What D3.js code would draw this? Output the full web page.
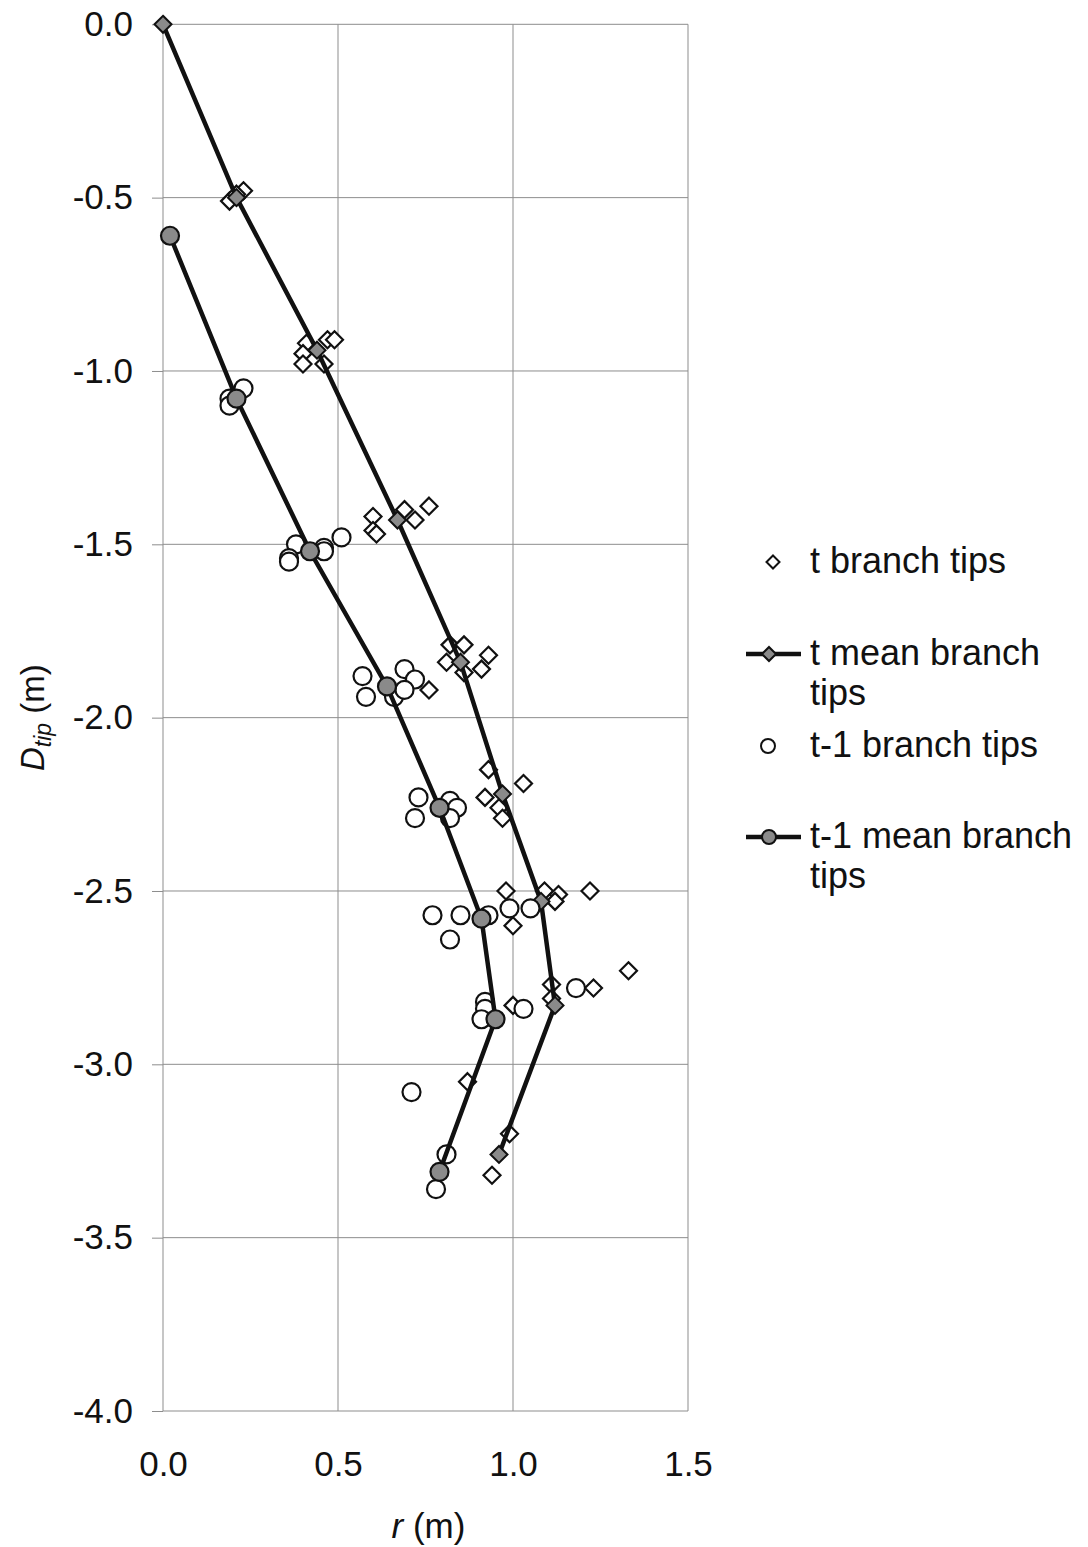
<!DOCTYPE html>
<html>
<head>
<meta charset="utf-8">
<script src="https://cdn.jsdelivr.net/npm/d3@7"></script>
<style>
body{margin:0;background:#fff}
text{font-family:"Liberation Sans",Arial,Helvetica,sans-serif;fill:#111}
</style>
</head>
<body>
<svg id="chart" width="1088" height="1547"></svg>
<script>
// ticks
const xTicks=[0,0.5,1.0,1.5]
const yTicks=[0,-0.5,-1.0,-1.5,-2.0,-2.5,-3.0,-3.5,-4.0]

// t branch tips (r, D)
const tTipR=[0.19,0.23,0.21, 0.41,0.47,0.49,0.40,0.40,0.46, 0.60,0.69,0.76,0.60,0.61,0.72,
  0.82,0.86,0.81,0.86,0.93,0.91,0.76, 0.93,1.03,0.92,0.96,0.97, 0.98,1.09,1.13,1.12,1.22,1.00,
  1.11,1.23,1.33,1.11,1.00, 0.87, 0.99,0.94]
const tTipD=[-0.51,-0.48,-0.49, -0.92,-0.91,-0.91,-0.95,-0.98,-0.98, -1.42,-1.40,-1.39,-1.46,-1.47,-1.43,
  -1.79,-1.79,-1.84,-1.87,-1.82,-1.86,-1.92, -2.15,-2.19,-2.23,-2.26,-2.29, -2.50,-2.50,-2.51,-2.53,-2.50,-2.60,
  -2.77,-2.78,-2.73,-2.81,-2.83, -3.05, -3.20,-3.32]

// t mean branch tips
const tMeanR=[0.00,0.21,0.44,0.67,0.85,0.97,1.08,1.12,0.96]
const tMeanD=[0.00,-0.50,-0.94,-1.43,-1.84,-2.22,-2.53,-2.83,-3.26]

// t-1 branch tips
const t1TipR=[0.19,0.23,0.19, 0.38,0.36,0.36,0.46,0.46,0.51, 0.57,0.58,0.69,0.72,0.66,0.69,
  0.73,0.72,0.82,0.84,0.82, 0.77,0.85,0.93,0.82,0.99,1.05, 1.18,1.03,0.92,0.92,0.91, 0.71, 0.81,0.78]
const t1TipD=[-1.08,-1.05,-1.10, -1.50,-1.54,-1.55,-1.51,-1.52,-1.48, -1.88,-1.94,-1.86,-1.89,-1.94,-1.92,
  -2.23,-2.29,-2.24,-2.26,-2.29, -2.57,-2.57,-2.57,-2.64,-2.55,-2.55, -2.78,-2.84,-2.82,-2.84,-2.87, -3.08, -3.26,-3.36]

// t-1 mean branch tips
const t1MeanR=[0.02,0.21,0.42,0.64,0.79,0.91,0.95,0.79]
const t1MeanD=[-0.61,-1.08,-1.52,-1.91,-2.26,-2.58,-2.87,-3.31]

const legendLabels=[["t branch tips"],["t mean branch","tips"],["t-1 branch tips"],["t-1 mean branch","tips"]]

const svg=d3.select("#chart")
const pLeft=163,pRight=688,pTop=24.3,pBottom=1411
const x=d3.scaleLinear().domain([0,1.5]).range([pLeft,pRight])
const y=d3.scaleLinear().domain([0,-4]).range([pTop,pBottom])
const fmt=d=>d.toFixed(1)
const grey="#8d8d8d"

//grid
svg.append("g").selectAll("line").data(yTicks).enter().append("line")
  .attr("x1",pLeft).attr("x2",pRight).attr("y1",d=>y(d)).attr("y2",d=>y(d))
  .attr("stroke",grey).attr("stroke-width",1)
svg.append("g").selectAll("line").data(xTicks).enter().append("line")
  .attr("x1",d=>x(d)).attr("x2",d=>x(d)).attr("y1",pTop).attr("y2",pBottom)
  .attr("stroke",grey).attr("stroke-width",1)

//axes
const yAxis=d3.axisLeft(y).tickValues(yTicks).tickFormat(fmt).tickSize(11).tickPadding(19)
const gy=svg.append("g").attr("transform",`translate(${pLeft},0)`).call(yAxis)
gy.select(".domain").remove()
gy.selectAll(".tick line").attr("stroke",grey)
gy.selectAll("text").attr("font-size",35).attr("font-family",null)

const xAxis=d3.axisBottom(x).tickValues(xTicks).tickFormat(fmt).tickSize(0).tickPadding(40)
const gx=svg.append("g").attr("transform",`translate(0,${pBottom})`).call(xAxis)
gx.select(".domain").remove()
gx.selectAll("text").attr("font-size",35).attr("font-family",null)

//axis titles
const xt=svg.append("text").attr("x",(pLeft+pRight)/2+3).attr("y",1538).attr("text-anchor","middle").attr("font-size",35)
xt.append("tspan").attr("font-style","italic").text("r")
xt.append("tspan").text(" (m)")
const yt=svg.append("text").attr("transform",`translate(44,${(pTop+pBottom)/2}) rotate(-90)`).attr("text-anchor","middle").attr("font-size",33)
yt.append("tspan").attr("font-style","italic").text("D")
yt.append("tspan").attr("font-style","italic").attr("font-size",23).attr("dy",7).text("tip")
yt.append("tspan").attr("dy",-7).text(" (m)")

const diamond=h=>`M0,${-h}L${h},0L0,${h}L${-h},0Z`
const line=d3.line().x(d=>x(d[0])).y(d=>y(d[1]))
const pairs=(a,b)=>a.map((v,i)=>[v,b[i]])

//t branch tips
svg.append("g").selectAll("path").data(pairs(tTipR,tTipD)).enter().append("path")
  .attr("d",diamond(8.5)).attr("transform",d=>`translate(${x(d[0])},${y(d[1])})`)
  .attr("fill","#fff").attr("stroke","#111").attr("stroke-width",2.2)

//t mean
const tMean=pairs(tMeanR,tMeanD)
svg.append("path").datum(tMean).attr("d",line).attr("fill","none").attr("stroke","#111").attr("stroke-width",4.5)
svg.append("g").selectAll("path").data(tMean).enter().append("path")
  .attr("d",diamond(8.5)).attr("transform",d=>`translate(${x(d[0])},${y(d[1])})`)
  .attr("fill","#8a8a8a").attr("stroke","#111").attr("stroke-width",2)

//t-1 branch tips
svg.append("g").selectAll("circle").data(pairs(t1TipR,t1TipD)).enter().append("circle")
  .attr("cx",d=>x(d[0])).attr("cy",d=>y(d[1])).attr("r",9)
  .attr("fill","#fff").attr("stroke","#111").attr("stroke-width",2.2)

//t-1 mean
const t1Mean=pairs(t1MeanR,t1MeanD)
svg.append("path").datum(t1Mean).attr("d",line).attr("fill","none").attr("stroke","#111").attr("stroke-width",4.5)
svg.append("g").selectAll("circle").data(t1Mean).enter().append("circle")
  .attr("cx",d=>x(d[0])).attr("cy",d=>y(d[1])).attr("r",9)
  .attr("fill","#8a8a8a").attr("stroke","#111").attr("stroke-width",2.2)

//legend
const legY=[573,665,757,848]
const legend=svg.append("g").attr("id","legend")
legendLabels.forEach((lab,i)=>{
  const cy=legY[i]-11
  if(i==1||i==3){
    legend.append("line").attr("x1",746).attr("x2",801).attr("y1",cy).attr("y2",cy).attr("stroke","#111").attr("stroke-width",4.5)
  }
  if(i==0||i==1){
    legend.append("path").attr("d",diamond(i==0?6.5:7)).attr("transform",`translate(${i==0?773:769},${cy})`)
      .attr("fill",i==0?"#fff":"#8a8a8a").attr("stroke","#111").attr("stroke-width",2)
  }else{
    legend.append("circle").attr("cx",i==2?768:769).attr("cy",cy).attr("r",7)
      .attr("fill",i==2?"#fff":"#8a8a8a").attr("stroke","#111").attr("stroke-width",2)
  }
  lab.forEach((t,j)=>{
    legend.append("text").attr("x",810).attr("y",legY[i]+j*40).attr("font-size",36).text(t)
  })
})
</script>
</body>
</html>
